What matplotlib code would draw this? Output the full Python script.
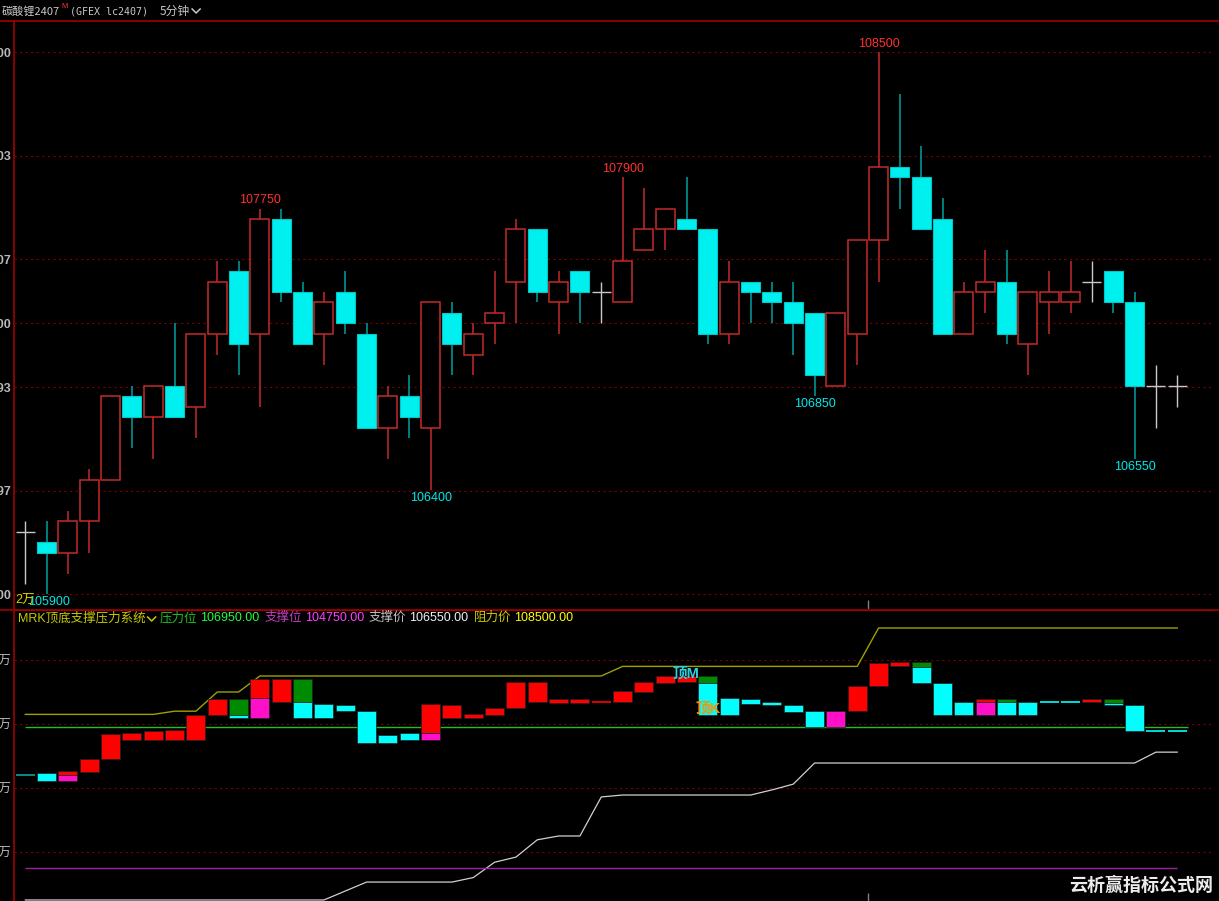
import matplotlib
matplotlib.use('Agg')
import matplotlib.pyplot as plt
from matplotlib.patches import Rectangle

plt.rcParams['font.family'] = ['Liberation Sans', 'Noto Sans CJK SC', 'DejaVu Sans']

# ---------------- data ----------------
opens = [106200, 106150, 106100, 106250, 106450, 106850, 106750, 106900, 106800, 107150,
         107450, 107150, 107700, 107350, 107150, 107350, 107150, 106700, 106850, 106700,
         107250, 107050, 107200, 107400, 107650, 107300, 107450, 107350, 107300, 107550,
         107650, 107700, 107650, 107150, 107400, 107350, 107300, 107250, 106900, 107150,
         107600, 107950, 107900, 107700, 107150, 107350, 107400, 107100, 107300, 107300,
         107400, 107450, 107300, 106900, 106900]
closes = [106200, 106100, 106250, 106450, 106850, 106750, 106900, 106750, 107150, 107400,
          107100, 107700, 107350, 107100, 107300, 107200, 106700, 106850, 106750, 107300,
          107100, 107150, 107250, 107650, 107350, 107400, 107350, 107350, 107500, 107650,
          107750, 107650, 107150, 107400, 107350, 107300, 107200, 106950, 107250, 107600,
          107950, 107900, 107650, 107150, 107350, 107400, 107150, 107350, 107350, 107350,
          107400, 107300, 106900, 106900, 106900]
highs = [106250, 106250, 106300, 106500, 106850, 106900, 106900, 107200, 107150, 107500,
         107500, 107750, 107750, 107400, 107350, 107450, 107200, 106900, 106950, 107300,
         107300, 107200, 107450, 107700, 107650, 107450, 107450, 107400, 107900, 107850,
         107750, 107900, 107650, 107500, 107400, 107400, 107400, 107250, 107250, 107600,
         108500, 108300, 108050, 107800, 107400, 107550, 107550, 107350, 107450, 107500,
         107500, 107450, 107350, 107000, 106950]
lows = [105950, 105900, 106000, 106100, 106450, 106600, 106550, 106750, 106650, 107050,
        106950, 106800, 107300, 107100, 107000, 107150, 106700, 106550, 106650, 106400,
        106950, 106950, 107100, 107200, 107300, 107150, 107200, 107200, 107300, 107550,
        107550, 107650, 107100, 107100, 107200, 107200, 107050, 106850, 106900, 107000,
        107400, 107750, 107650, 107150, 107150, 107250, 107100, 106950, 107150, 107250,
        107300, 107250, 106550, 106700, 106800]

main_ticks = [105900, 106397, 106893, 107200, 107507, 108003, 108500]

peak_idx = [11, 28, 40]
peak_val = [107750, 107900, 108500]
trough_idx = [1, 19, 37, 52]
trough_val = [105900, 106400, 106850, 106550]

# indicator panel bars: top, mid, bottom, upper colour, lower colour
sub_top = [106200, 106230, 106266, 106453, 106844, 106859, 106891, 106906, 107141, 107391,
           107391, 107703, 107703, 107703, 107313, 107297, 107203, 106828, 106859, 107313,
           107297, 107156, 107250, 107656, 107656, 107391, 107391, 107344, 107516, 107656,
           107750, 107750, 107750, 107406, 107391, 107344, 107297, 107203, 107203, 107594,
           107953, 107969, 107969, 107641, 107344, 107391, 107391, 107344, 107344, 107344,
           107391, 107391, 107297, 106891, 106891]
sub_mid = [106200, 106110, 106203, 106250, 106453, 106750, 106750, 106750, 106750, 107141,
           107141, 107406, 107344, 107344, 107094, 107203, 106703, 106703, 106750, 106859,
           107094, 107094, 107141, 107250, 107344, 107328, 107328, 107344, 107344, 107500,
           107641, 107656, 107641, 107141, 107313, 107297, 107188, 106953, 106953, 107203,
           107594, 107906, 107891, 107141, 107141, 107344, 107344, 107141, 107344, 107344,
           107344, 107328, 106891, 106891, 106891]
sub_bot = [106200, 106110, 106109, 106250, 106453, 106750, 106750, 106750, 106750, 107141,
           107094, 107094, 107344, 107094, 107094, 107203, 106703, 106703, 106750, 106750,
           107094, 107094, 107141, 107250, 107344, 107328, 107328, 107344, 107344, 107500,
           107641, 107656, 107141, 107141, 107313, 107297, 107188, 106953, 106953, 107203,
           107594, 107906, 107641, 107141, 107141, 107141, 107141, 107141, 107344, 107344,
           107344, 107297, 106891, 106891, 106891]
sub_up_col = ['c', 'c', 'r', 'r', 'r', 'r', 'r', 'r', 'r', 'r',
              'g', 'r', 'r', 'g', 'c', 'c', 'c', 'c', 'c', 'r',
              'r', 'r', 'r', 'r', 'r', 'r', 'r', 'r', 'r', 'r',
              'r', 'r', 'g', 'c', 'c', 'c', 'c', 'c', 'm', 'r',
              'r', 'r', 'g', 'c', 'c', 'r', 'g', 'c', 'c', 'c',
              'r', 'g', 'c', 'c', 'c']
sub_dn_col = ['c', 'c', 'm', 'r', 'r', 'r', 'r', 'r', 'r', 'r',
              'c', 'm', 'r', 'c', 'c', 'c', 'c', 'c', 'c', 'm',
              'r', 'r', 'r', 'r', 'r', 'r', 'r', 'r', 'r', 'r',
              'r', 'r', 'c', 'c', 'c', 'c', 'c', 'c', 'm', 'r',
              'r', 'r', 'c', 'c', 'c', 'm', 'c', 'c', 'c', 'c',
              'r', 'c', 'c', 'c', 'c']

resist_price = [107150] * 7 + [107200] * 2 + [107500] * 2 + [107750] * 17 + [107900] * 12 + [108500] * 15
support_price = ([104250] * 15 + [104390] + [104530] * 5 + [104600, 104840, 104920, 105190] +
                 [105250] * 2 + [105860] + [105890] * 7 + [105970, 106060] + [106390] * 16 + [106560] * 2)
pressure_level = 106950
support_level = 104750
sub_ticks = [105000, 106000, 107000, 108000]
sub_tick_labels = ['10.5万', '10.6万', '10.7万', '10.8万']

legend_items = [("MRK顶底支撑压力系统", "", '#c8c800', '#c8c800'),
                ("压力位", "106950.00", '#20c020', '#20ff40'),
                ("支撑位", "104750.00", '#c040c0', '#ff40ff'),
                ("支撑价", "106550.00", '#c0c0c0', '#f0f0f0'),
                ("阻力价", "108500.00", '#c8c800', '#ffff00')]

# ---------------- figure ----------------
W, H = 1219, 901
fig = plt.figure(figsize=(W / 100, H / 100), dpi=100, facecolor='black')
renderer = fig.canvas.get_renderer()


def fx(px):
    return px / W


def fy(py):
    return 1 - py / H


def right_px(t):
    return t.get_window_extent(renderer=renderer).x1


def chevron(x0, yc, color, w=8, h=4):
    fig.add_artist(plt.Line2D([fx(x0), fx(x0 + w / 2), fx(x0 + w)],
                              [fy(yc - h / 2), fy(yc + h / 2), fy(yc - h / 2)],
                              color=color, lw=1.1))


XL = (-0.53, 55.63)
ax = fig.add_axes([fx(14), fy(609), fx(1212) - fx(14), fy(21) - fy(609)], facecolor='black')
ax2 = fig.add_axes([fx(14), fy(901), fx(1212) - fx(14), fy(610) - fy(901)], facecolor='black')

RED = '#c42a2a'
CYAN = '#00f0f0'
CYAN_W = '#00a0a0'
GRAY = '#c8c8c8'
GRID = '#7a0000'
BW = 0.89

for i, (o, c, h, l) in enumerate(zip(opens, closes, highs, lows)):
    if c > o:
        ax.vlines(i, c, h, color=RED, lw=1.1, zorder=2)
        ax.vlines(i, l, o, color=RED, lw=1.1, zorder=2)
        ax.add_patch(Rectangle((i - BW / 2, o), BW, c - o, facecolor='black',
                               edgecolor=RED, lw=1.1, zorder=3))
    elif c < o:
        ax.vlines(i, l, h, color=CYAN_W, lw=1.1, zorder=2)
        ax.add_patch(Rectangle((i - BW / 2, c), BW, o - c, facecolor=CYAN,
                               edgecolor='#00c8c8', lw=0.8, zorder=3))
    else:
        ax.vlines(i, l, h, color=GRAY, lw=1.0, zorder=2)
        ax.hlines(o, i - BW / 2, i + BW / 2, color=GRAY, lw=1.0, zorder=3)

for i, v in zip(peak_idx, peak_val):
    ax.annotate(str(v), (i, v), xytext=(0, 1.5), textcoords='offset points',
                ha='center', va='bottom', color='#ff3030', fontsize=9)
for i, v in zip(trough_idx, trough_val):
    ax.annotate(str(v), (i + (0.1 if i == 1 else 0), v), xytext=(0, -1.5), textcoords='offset points',
                ha='center', va='top', color='#00e8e8', fontsize=9)

for t in main_ticks:
    ax.axhline(t, color=GRID, lw=0.8, ls=(0, (2, 3)), zorder=1)
ax.set_xlim(*XL)
ax.set_ylim(105830, 108649)
ax.set_yticks(main_ticks)
ax.set_yticklabels([str(t) for t in main_ticks])
ax.tick_params(axis='y', length=0, pad=2, labelcolor='#b8b8b8', labelsize=9)
ax.tick_params(axis='x', length=0, labelbottom=False)
for s in ['right', 'bottom', 'top']:
    ax.spines[s].set_visible(False)
ax.spines['left'].set_color('#a00000')
ax.spines['left'].set_linewidth(1.2)
for lab in ax.get_yticklabels():
    lab.set_fontweight('bold')
ax.vlines(39.5, 105830, 105830 + 9 * 4.794, color='#808080', lw=1)

# indicator panel
cmap = {'r': '#ff0000', 'g': '#008a00', 'c': '#00ffff', 'm': '#ff10c8'}
for i in range(len(sub_top)):
    t, m, b = sub_top[i], sub_mid[i], sub_bot[i]
    if t == b:
        ax2.hlines(t, i - BW / 2, i + BW / 2, color=cmap[sub_up_col[i]] if i else '#10a0a0', lw=1.2, zorder=3)
        continue
    if t > m:
        ax2.add_patch(Rectangle((i - BW / 2, m), BW, t - m, facecolor=cmap[sub_up_col[i]],
                                edgecolor='#202020', lw=0.5, zorder=3))
    if m > b:
        ax2.add_patch(Rectangle((i - BW / 2, b), BW, m - b, facecolor=cmap[sub_dn_col[i]],
                                edgecolor='#202020', lw=0.5, zorder=3))

xs = list(range(len(resist_price)))
ax2.plot(xs, resist_price, color='#a0a000', lw=1.0, zorder=2)
ax2.plot(xs, support_price, color='#d0d0d0', lw=0.9, zorder=2)
ax2.hlines(pressure_level, 0, len(xs) - 0.5, color='#20c020', lw=1.0, zorder=2)
ax2.hlines(support_level, 0, len(xs) - 1, color='#a020a0', lw=1.0, zorder=2)

ax2.text(30.95, 107790, '顶M', color='#30d0e0', fontsize=10.5, ha='center', va='center',
         fontweight='bold', zorder=5)
ax2.text(32.0, 107234, '顶K', color='#ff9000', fontsize=10.5, ha='center', va='center',
         fontweight='bold', zorder=5)

for t in sub_ticks:
    ax2.axhline(t, color=GRID, lw=0.8, ls=(0, (2, 3)), zorder=1)
ax2.set_xlim(*XL)
ax2.set_ylim(104234, 108781)
ax2.set_yticks(sub_ticks)
ax2.set_yticklabels(sub_tick_labels)
ax2.tick_params(axis='y', length=0, pad=2, labelcolor='#b8b8b8', labelsize=9)
ax2.tick_params(axis='x', length=0, labelbottom=False)
for s in ['right', 'bottom']:
    ax2.spines[s].set_visible(False)
ax2.spines['top'].set_color('#a00000')
ax2.spines['left'].set_color('#a00000')
ax2.spines['left'].set_linewidth(1.2)
ax2.vlines(39.5, 104234, 104234 + 8 * 15.625, color='#808080', lw=1)

fig.add_artist(plt.Line2D([0, 1], [fy(21), fy(21)], color='#a00000', lw=1.2))
fig.add_artist(plt.Line2D([0, 1], [fy(609.5), fy(609.5)], color='#a00000', lw=1.2))

# header
t1 = fig.text(fx(2), fy(11), '碳酸锂2407', color='#c8c8c8', fontsize=8, va='center', ha='left',
              family=['Noto Sans CJK SC'])
xm = right_px(t1) + 1
fig.text(fx(xm), fy(7), 'M', color='#ff3030', fontsize=5.5, va='center', ha='left')
fig.text(fx(70), fy(11), '(GFEX lc2407)', color='#c8c8c8', fontsize=7.2, va='center', ha='left',
         family=['DejaVu Sans Mono'])
t5 = fig.text(fx(160), fy(11), '5分钟', color='#c8c8c8', fontsize=8.5, va='center', ha='left',
              family=['Noto Sans CJK SC'])
chevron(right_px(t5) + 2, 11, '#c8c8c8')

fig.text(fx(15), fy(601), '2万', color='#d4d400', fontsize=9, va='center', ha='left')

# legend in indicator panel
xpos = [18, 160, 265, 369, 474]
for (lab, val, c1, c2), x0 in zip(legend_items, xpos):
    t = fig.text(fx(x0), fy(618), lab, color=c1, fontsize=9, va='center', ha='left')
    if val:
        fig.text(fx(x0 + 40), fy(618), val, color=c2, fontsize=9, va='center', ha='left')
    else:
        chevron(right_px(t) + 2, 619, c1, w=8, h=4)

fig.text(fx(1141), fy(885), '云析赢指标公式网', color='#ececec', fontsize=13, fontweight='bold',
         va='center', ha='center', family=['Noto Sans CJK SC'])

fig.savefig('out.png', dpi=100, facecolor='black')
